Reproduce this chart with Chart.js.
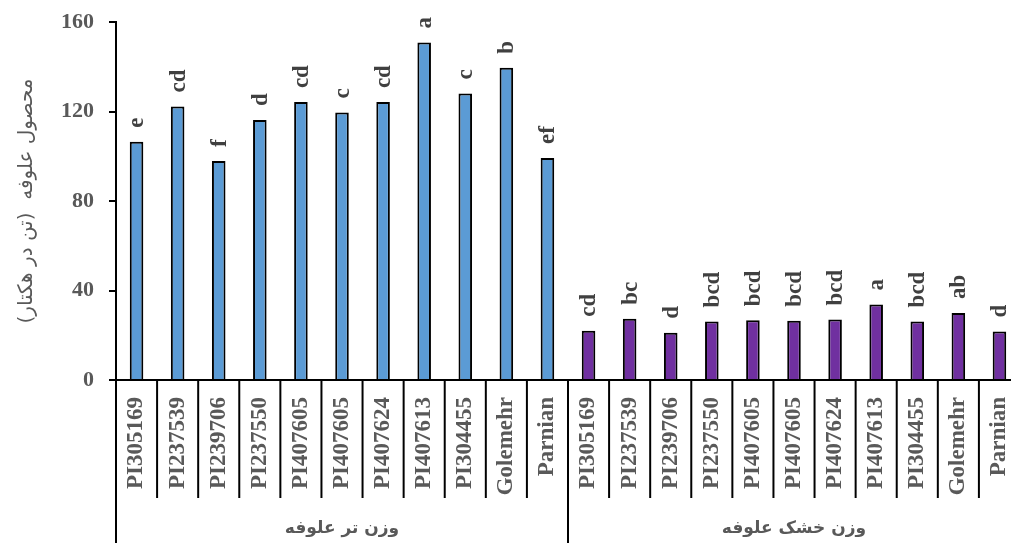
<!DOCTYPE html>
<html>
<head>
<meta charset="utf-8">
<script src="https://cdn.jsdelivr.net/npm/chart.js@4.4.1/dist/chart.umd.min.js"></script>
<style>
    html, body { margin: 0; padding: 0; background: #fff; overflow: hidden; }
</style>
</head>
<body>
<canvas id="grafica" width="1030" height="543"></canvas>
<script>
// DATOS
const variedades = ["PI305169", "PI237539", "PI239706", "PI237550", "PI407605", "PI407605", "PI407624", "PI407613", "PI304455", "Golemehr", "Parnian"];
const pesoFresco = [106.5, 122.2, 97.9, 116.2, 124.2, 119.6, 124.2, 150.8, 128.1, 139.6, 99.2];
const pesoSeco = [22.0, 27.4, 21.1, 26.2, 26.7, 26.5, 27.0, 33.7, 26.2, 29.9, 21.7];
const letrasFresco = ["e", "cd", "f", "d", "cd", "c", "cd", "a", "c", "b", "ef"];
const letrasSeco = ["cd", "bc", "d", "bcd", "bcd", "bcd", "bcd", "a", "bcd", "ab", "d"];
const grupos = ["وزن تر علوفه", "وزن خشک علوفه"];
const ticksY = [0, 40, 80, 120, 160];
const tituloY = "محصول علوفه  (تن در هکتار)";

const gris = "#595959";
const serif = "'Liberation Serif', 'Times New Roman', serif";

const etiquetas = variedades.concat(variedades);
const valores = pesoFresco.concat(pesoSeco);
const letras = letrasFresco.concat(letrasSeco);
const colores = valores.map((v, i) => i < variedades.length ? "#5B9BD5" : "#7030A0");

// Plugin para letras, separadores y nombres de grupo
const extras = {
    id: "extras",
    afterDatasetsDraw(chart) {
        const ctx = chart.ctx;
        const area = chart.chartArea;
        const meta = chart.getDatasetMeta(0);
        const n = etiquetas.length;
        const ancho = (area.right - area.left) / n;

        // letras de significancia
        ctx.save();
        ctx.fillStyle = "#404040";
        ctx.font = "bold 23px " + serif;
        ctx.textAlign = "left";
        ctx.textBaseline = "middle";
        meta.data.forEach((bar, i) => {
            ctx.save();
            ctx.translate(bar.x, bar.y - 14);
            ctx.rotate(-Math.PI / 2);
            ctx.fillText(letras[i], 0, 1);
            ctx.restore();
        });
        ctx.restore();

        // separadores del eje x
        ctx.save();
        ctx.strokeStyle = "#000";
        ctx.lineWidth = 2;
        for (let i = 0; i <= n; i++) {
            const x = area.left + i * ancho;
            const largo = (i % variedades.length === 0) ? chart.height : area.bottom + 118;
            ctx.beginPath();
            ctx.moveTo(x, area.bottom);
            ctx.lineTo(x, largo);
            ctx.stroke();
        }
        ctx.restore();

        // nombres de grupo
        ctx.save();
        ctx.fillStyle = gris;
        ctx.font = "bold 17px 'DejaVu Sans', 'Liberation Sans', sans-serif";
        ctx.textAlign = "center";
        ctx.textBaseline = "middle";
        grupos.forEach((g, k) => {
            const x0 = area.left + k * variedades.length * ancho;
            const x1 = x0 + variedades.length * ancho;
            ctx.fillText(g, (x0 + x1) / 2, 529);
        });
        ctx.restore();
    }
};

const ctx = document.getElementById("grafica").getContext("2d");
new Chart(ctx, {
    type: "bar",
    data: {
        labels: etiquetas,
        datasets: [{
            data: valores,
            backgroundColor: colores,
            borderColor: "#000",
            borderWidth: 2,
            categoryPercentage: 1,
            barPercentage: 0.33
        }]
    },
    options: {
        responsive: false,
        animation: false,
        layout: { padding: { top: 22, right: 10, left: 0, bottom: 0 } },
        plugins: {
            legend: { display: false },
            tooltip: { enabled: false }
        },
        scales: {
            y: {
                min: 0,
                max: 160,
                afterBuildTicks: (s) => { s.ticks = ticksY.map(v => ({ value: v })); },
                afterFit: (s) => { s.width = 116; s.paddingTop = 0; s.paddingBottom = 0; },
                grid: { drawOnChartArea: false, color: "#000", lineWidth: 2, tickLength: 7 },
                border: { color: "#000", width: 2 },
                ticks: { color: gris, font: { family: serif, size: 22, weight: "bold" }, padding: 15 },
                title: {
                    display: true,
                    text: tituloY,
                    color: gris,
                    font: { family: "'DejaVu Sans', 'Liberation Sans', sans-serif", size: 20 },
                    padding: { top: 15, bottom: 0 }
                }
            },
            x: {
                afterFit: (s) => { s.height = 163; s.paddingLeft = 0; s.paddingRight = 0; },
                grid: { display: false },
                border: { color: "#000", width: 2 },
                ticks: {
                    color: gris,
                    font: { family: serif, size: 23, weight: "bold" },
                    minRotation: 90,
                    maxRotation: 90,
                    autoSkip: false,
                    padding: 9
                }
            }
        }
    },
    plugins: [extras]
});
</script>
</body>
</html>
